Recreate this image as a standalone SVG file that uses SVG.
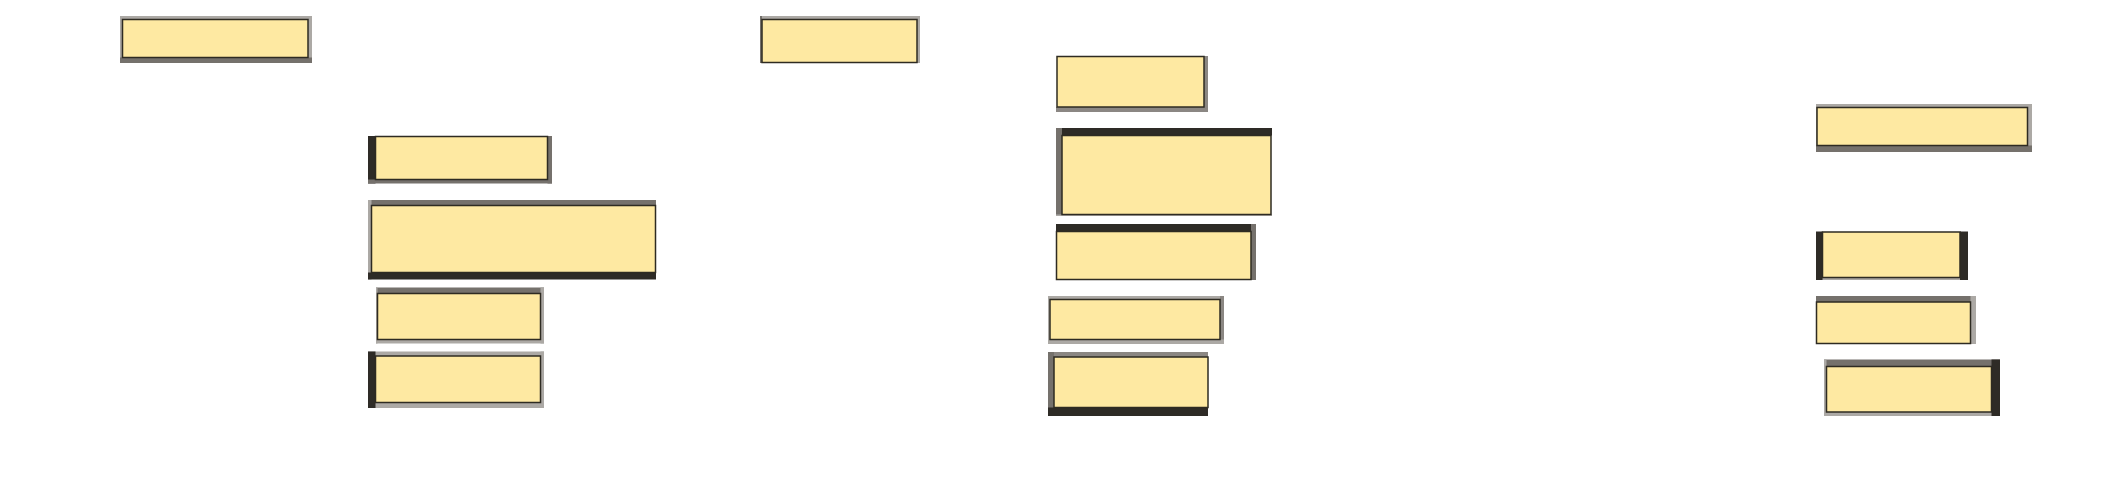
<svg xmlns="http://www.w3.org/2000/svg" width="2118" height="488" viewBox="0 0 2118 488">
<style>
.dk{fill:#2e2b26}
.md{fill:#75716c}
.gr{fill:#8b8783}
.lt{fill:#aca9a5}
.box{fill:#fee9a2;stroke:#2e2b22;stroke-width:1.5}
</style>
<rect width="2118" height="488" fill="#ffffff"/>
<g id="connectors"></g>
<g id="n1">
<rect class="lt" x="120" y="16" width="192" height="4"/>
<rect class="lt" x="120" y="16" width="2.5" height="47"/>
<rect class="lt" x="308" y="16" width="4" height="47"/>
<rect class="md" x="120" y="57.5" width="192" height="5.5"/>
<rect class="box" x="122.5" y="19.5" width="185.5" height="38"/>
</g>
<g id="n2">
<rect class="lt" x="760" y="16" width="160" height="4"/>
<rect class="md" x="760" y="16" width="2" height="47"/>
<rect class="lt" x="917" y="16" width="3" height="47"/>
<rect class="box" x="762" y="19.5" width="155" height="43"/>
</g>
<g id="n3">
<rect class="gr" x="1204" y="56" width="4" height="56"/>
<rect class="gr" x="1056" y="107" width="152" height="5"/>
<rect class="box" x="1057" y="56.5" width="147" height="50.5"/>
</g>
<g id="n4">
<rect class="dk" x="1056" y="128" width="216" height="7.5"/>
<rect class="md" x="1056" y="128" width="6" height="88"/>
<rect class="lt" x="1056" y="214.5" width="216" height="1.5"/>
<rect class="box" x="1062" y="135.5" width="209" height="79"/>
</g>
<g id="n5">
<rect class="dk" x="368" y="136" width="7.5" height="47.5"/>
<rect class="md" x="547.5" y="136" width="4.5" height="47.5"/>
<rect class="md" x="368" y="179.5" width="184" height="4"/>
<rect class="box" x="375.5" y="136.5" width="172" height="43"/>
</g>
<g id="n6">
<rect class="md" x="368" y="200" width="288" height="5.5"/>
<rect class="lt" x="368" y="200" width="3.5" height="79.5"/>
<rect class="dk" x="368" y="272.5" width="288" height="7"/>
<rect class="box" x="371.5" y="205.5" width="284" height="67"/>
</g>
<g id="n7">
<rect class="md" x="376" y="287.5" width="168" height="6"/>
<rect class="lt" x="376" y="287.5" width="1.5" height="56"/>
<rect class="lt" x="540.5" y="287.5" width="3.5" height="56"/>
<rect class="lt" x="376" y="339.5" width="168" height="4"/>
<rect class="box" x="377.5" y="293.5" width="163" height="46"/>
</g>
<g id="n8">
<rect class="lt" x="368" y="351.5" width="176" height="4.5"/>
<rect class="lt" x="540.5" y="351.5" width="3.5" height="56.5"/>
<rect class="lt" x="368" y="402.5" width="176" height="5.5"/>
<rect class="dk" x="368" y="351.5" width="7.5" height="56.5"/>
<rect class="box" x="375.5" y="356" width="165" height="46.5"/>
</g>
<g id="n9">
<rect class="dk" x="1056" y="224" width="200" height="7.5"/>
<rect class="md" x="1251" y="224" width="5" height="56"/>
<rect class="box" x="1056.5" y="231.5" width="194.5" height="48"/>
</g>
<g id="n10">
<rect class="lt" x="1048" y="296" width="176" height="3.5"/>
<rect class="lt" x="1048" y="296" width="2" height="48"/>
<rect class="gr" x="1220" y="296" width="4" height="48"/>
<rect class="lt" x="1048" y="339.5" width="176" height="4.5"/>
<rect class="box" x="1050" y="299.5" width="170" height="40"/>
</g>
<g id="n11">
<rect class="gr" x="1048" y="352" width="160" height="5"/>
<rect class="md" x="1048" y="352" width="6" height="64"/>
<rect class="dk" x="1048" y="407.5" width="160" height="8.5"/>
<rect class="box" x="1054" y="357" width="154" height="50.5"/>
</g>
<g id="n12">
<rect class="lt" x="1816" y="104" width="216" height="3.5"/>
<rect class="lt" x="1816" y="104" width="1" height="48"/>
<rect class="lt" x="2027.5" y="104" width="4.5" height="48"/>
<rect class="md" x="1816" y="145.5" width="216" height="6.5"/>
<rect class="box" x="1817" y="107.5" width="210.5" height="38"/>
</g>
<g id="n13">
<rect class="lt" x="1816" y="277.5" width="152" height="2.5"/>
<rect class="dk" x="1816" y="231.5" width="6.5" height="48.5"/>
<rect class="dk" x="1960" y="231.5" width="8" height="48.5"/>
<rect class="box" x="1822.5" y="232" width="137.5" height="45.5"/>
</g>
<g id="n14">
<rect class="md" x="1816" y="296" width="160" height="6"/>
<rect class="lt" x="1970.5" y="296" width="5.5" height="48"/>
<rect class="box" x="1816.5" y="302" width="154" height="41.5"/>
</g>
<g id="n15">
<rect class="md" x="1824" y="359.5" width="176" height="7"/>
<rect class="lt" x="1824" y="359.5" width="2.5" height="56.5"/>
<rect class="lt" x="1824" y="412" width="176" height="4"/>
<rect class="dk" x="1991.5" y="359.5" width="8.5" height="56.5"/>
<rect class="box" x="1826.5" y="366.5" width="165" height="45.5"/>
</g>
</svg>
